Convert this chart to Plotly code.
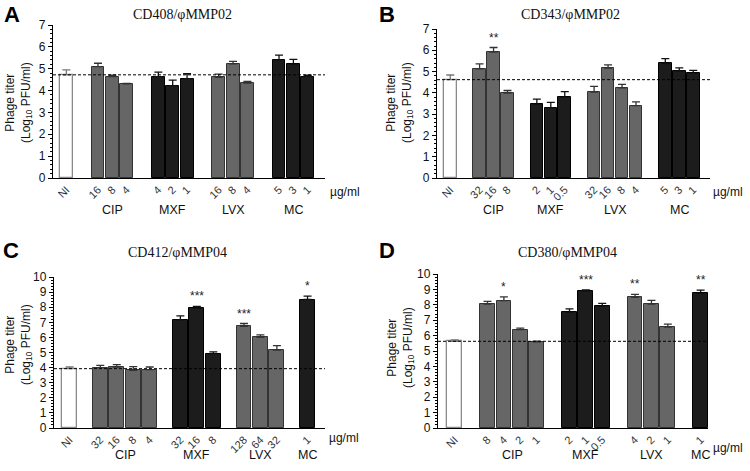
import plotly.graph_objects as go

# ---------------- data ----------------
group_names = ["NI", "CIP", "MXF", "LVX", "MC"]

A_doses = [["NI"], ["16", "8", "4"], ["4", "2", "1"], ["16", "8", "4"], ["5", "3", "1"]]
A_mean = [[4.72], [5.10, 4.64, 4.31], [4.64, 4.23, 4.55], [4.61, 5.22, 4.34], [5.40, 5.20, 4.64]]
A_err = [[0.23], [0.15, 0.06, 0.02], [0.20, 0.25, 0.22], [0.14, 0.12, 0.08], [0.22, 0.23, 0.06]]
A_sig = [[""], ["", "", ""], ["", "", ""], ["", "", ""], ["", "", ""]]

B_doses = [["NI"], ["32", "16", "8"], ["2", "1", "0.5"], ["32", "16", "8", "4"], ["5", "3", "1"]]
B_mean = [[4.62], [5.13, 5.92, 3.99], [3.46, 3.29, 3.79], [4.04, 5.16, 4.23, 3.40], [5.38, 5.02, 4.93]]
B_err = [[0.22], [0.23, 0.21, 0.12], [0.25, 0.26, 0.27], [0.26, 0.15, 0.17, 0.18], [0.23, 0.15, 0.13]]
B_sig = [[""], ["", "**", ""], ["", "", ""], ["", "", "", ""], ["", "", ""]]

C_doses = [["NI"], ["32", "16", "8", "4"], ["32", "16", "8"], ["128", "64", "32"], ["1"]]
C_mean = [[3.93], [4.00, 4.04, 3.82, 3.87], [7.16, 7.93, 4.93], [6.73, 6.00, 5.16], [8.51]]
C_err = [[0.11], [0.15, 0.16, 0.24, 0.17], [0.27, 0.13, 0.11], [0.19, 0.17, 0.29], [0.22]]
C_sig = [[""], ["", "", "", ""], ["", "***", ""], ["***", "", ""], ["*"]]

D_doses = [["NI"], ["8", "4", "2", "1"], ["2", "1", "0.5"], ["4", "2", "1"], ["1"]]
D_mean = [[5.63], [8.05, 8.27, 6.39, 5.60], [7.51, 8.87, 7.90], [8.48, 8.05, 6.56], [8.74]]
D_err = [[0.09], [0.17, 0.25, 0.10, 0.04], [0.22, 0.09, 0.19], [0.20, 0.24, 0.19], [0.21]]
D_sig = [[""], ["", "*", "", ""], ["", "***", ""], ["**", "", ""], ["**"]]

# ---------------- styling ----------------
fill = {"NI": "#ffffff", "CIP": "#666666", "MXF": "#1c1c1c", "LVX": "#666666", "MC": "#1c1c1c"}
edge = {"NI": "#8a8a8a", "CIP": "#333333", "MXF": "#000000", "LVX": "#333333", "MC": "#000000"}
errc = {"NI": "#777777", "CIP": "#333333", "MXF": "#111111", "LVX": "#333333", "MC": "#111111"}

SANS = "Arial, Liberation Sans, sans-serif"
SERIF = "Times New Roman, Liberation Serif, serif"

W, H = 750, 471


def px_x(v):
    return v / W


def px_y(v):
    return 1 - v / H


panels = [
    dict(letter="A", title="CD408/φMMP02", doses=A_doses, mean=A_mean, err=A_err, sig=A_sig,
         ymax=7, gap=2.2, xpx=(53, 325), ypx=(178, 25), xr=(-0.93, 18.0),
         letter_xy=(2, 15), title_xy=(182, 15), ytitle_xy=(19, 103), unit_xy=(328, 192), grp_y=210),
    dict(letter="B", title="CD343/φMMP02", doses=B_doses, mean=B_mean, err=B_err, sig=B_sig,
         ymax=7, gap=2.1, xpx=(437, 710), ypx=(178, 29), xr=(-0.95, 18.6),
         letter_xy=(377, 15), title_xy=(570, 15), ytitle_xy=(400, 103), unit_xy=(711, 192), grp_y=210),
    dict(letter="C", title="CD412/φMMP04", doses=C_doses, mean=C_mean, err=C_err, sig=C_sig,
         ymax=10, gap=1.86, xpx=(54, 325), ypx=(428, 277), xr=(-0.95, 15.5),
         letter_xy=(1, 250), title_xy=(177, 252), ytitle_xy=(18, 345), unit_xy=(327, 438), grp_y=455),
    dict(letter="D", title="CD380/φMMP04", doses=D_doses, mean=D_mean, err=D_err, sig=D_sig,
         ymax=10, gap=2.0, xpx=(438, 708), ypx=(428, 274), xr=(-1.02, 15.45),
         letter_xy=(377, 250), title_xy=(567, 252), ytitle_xy=(400, 348), unit_xy=(711, 448), grp_y=455),
]

fig = go.Figure()
annotations = []
shapes = []
layout = {}

for i, p in enumerate(panels):
    n = i + 1
    xa = "x" if n == 1 else f"x{n}"
    ya = "y" if n == 1 else f"y{n}"
    xkey = "xaxis" if n == 1 else f"xaxis{n}"
    ykey = "yaxis" if n == 1 else f"yaxis{n}"

    pos = 0.0
    all_pos, all_lab = [], []
    for gi, g in enumerate(group_names):
        if gi > 0:
            pos += p["gap"] - 1
        gpos = []
        for d in p["doses"][gi]:
            gpos.append(pos)
            all_pos.append(pos)
            all_lab.append(d)
            pos += 1
        m = p["mean"][gi]
        e = p["err"][gi]
        fig.add_trace(go.Bar(
            x=gpos, y=m, width=[0.9] * len(gpos), xaxis=xa, yaxis=ya,
            marker=dict(color=fill[g], line=dict(color=edge[g], width=1.3 if g == "NI" else 1)),
            error_y=dict(type="data", symmetric=False, array=e, arrayminus=[0] * len(e),
                         color=errc[g], thickness=1.3, width=4),
            showlegend=False, hoverinfo="skip",
        ))
        for xp, mv, ev, s in zip(gpos, m, e, p["sig"][gi]):
            if s:
                annotations.append(dict(x=xp, y=mv + ev, xref=xa, yref=ya, text=s, showarrow=False,
                                        yanchor="bottom", yshift=1,
                                        font=dict(family=SANS, size=12, color="#222")))
        if g != "NI":
            annotations.append(dict(x=(gpos[0] + gpos[-1]) / 2, y=px_y(p["grp_y"]), xref=xa, yref="paper",
                                    text=g, showarrow=False, yanchor="middle",
                                    font=dict(family=SANS, size=12.5, color="#111")))

    # baseline (NI level) dashed line
    shapes.append(dict(type="line", xref=f"{xa} domain", yref=ya, x0=0, x1=1,
                       y0=p["mean"][0][0], y1=p["mean"][0][0],
                       line=dict(color="#000", width=1, dash="3px,2px")))

    layout[xkey] = dict(domain=[px_x(p["xpx"][0]), px_x(p["xpx"][1])], range=list(p["xr"]),
                        anchor=ya, tickvals=all_pos, ticktext=all_lab, tickangle=-45,
                        showline=True, linecolor="#000", linewidth=1.3, ticks="",
                        showgrid=False, zeroline=False, automargin=False,
                        tickfont=dict(family=SANS, size=11, color="#333"))
    layout[ykey] = dict(domain=[px_y(p["ypx"][0]), px_y(p["ypx"][1])], range=[0, p["ymax"]],
                        anchor=xa, dtick=1, showline=True, linecolor="#000", linewidth=1.3,
                        ticks="outside", ticklen=4, tickwidth=1.3, tickcolor="#000",
                        minor=dict(ticks="outside", ticklen=2, dtick=0.2, tickcolor="#000", tickwidth=1),
                        showgrid=False, zeroline=False, automargin=False,
                        tickfont=dict(family=SANS, size=12, color="#111"))

    annotations.append(dict(x=px_x(p["letter_xy"][0]), y=px_y(p["letter_xy"][1]), xref="paper", yref="paper",
                            text=f"<b>{p['letter']}</b>", showarrow=False, xanchor="left", yanchor="middle",
                            font=dict(family=SANS, size=22, color="#000")))
    annotations.append(dict(x=px_x(p["title_xy"][0]), y=px_y(p["title_xy"][1]), xref="paper", yref="paper",
                            text=p["title"], showarrow=False, xanchor="center", yanchor="middle",
                            font=dict(family=SERIF, size=14, color="#111")))
    annotations.append(dict(x=px_x(p["ytitle_xy"][0]), y=px_y(p["ytitle_xy"][1]), xref="paper", yref="paper",
                            text="Phage titer<br>(Log<sub>10</sub> PFU/ml)", showarrow=False, textangle=-90,
                            xanchor="center", yanchor="middle",
                            font=dict(family=SANS, size=12, color="#111")))
    annotations.append(dict(x=px_x(p["unit_xy"][0]), y=px_y(p["unit_xy"][1]), xref="paper", yref="paper",
                            text="µg/ml", showarrow=False, xanchor="left", yanchor="middle",
                            font=dict(family=SANS, size=12, color="#111")))

fig.update_layout(width=W, height=H, margin=dict(l=0, r=0, t=0, b=0),
                  paper_bgcolor="#fff", plot_bgcolor="#fff", bargap=0,
                  annotations=annotations, shapes=shapes, **layout)

fig.write_html("out.html", config={"displayModeBar": False},
               post_script="document.body.style.margin='0px';document.body.style.overflow='hidden';")
